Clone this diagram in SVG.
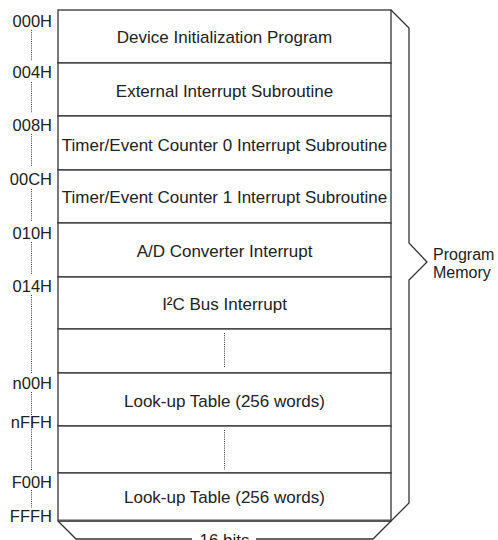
<svg xmlns="http://www.w3.org/2000/svg" width="498" height="540" viewBox="0 0 498 540">
<style>
.cell{fill:#fff;stroke:#333;stroke-width:1.3}
.t{font-family:"Liberation Sans",Arial,sans-serif;font-size:17px;fill:#222;text-anchor:middle}
.a{font-family:"Liberation Sans",Arial,sans-serif;font-size:16.5px;fill:#222;text-anchor:end}
.d{stroke:#333;stroke-width:1;stroke-dasharray:1 1.2;fill:none}
.br{fill:none;stroke:#333;stroke-width:1.3;stroke-linejoin:miter}
</style>
<rect width="498" height="540" fill="#fff"/>
<g id="addresses">
<text class="a" x="52" y="27">000H</text>
<text class="a" x="52" y="77.5">004H</text>
<text class="a" x="52" y="131">008H</text>
<text class="a" x="52" y="185">00CH</text>
<text class="a" x="52" y="238.5">010H</text>
<text class="a" x="52" y="291.5">014H</text>
<text class="a" x="52" y="388.5">n00H</text>
<text class="a" x="52" y="428">nFFH</text>
<text class="a" x="52" y="487.5">F00H</text>
<text class="a" x="52" y="521.5">FFFH</text>
</g>
<g id="connectors">
<line class="d" x1="31.5" y1="30" x2="31.5" y2="61"/>
<line class="d" x1="31.5" y1="82" x2="31.5" y2="113"/>
<line class="d" x1="31.5" y1="134" x2="31.5" y2="167"/>
<line class="d" x1="31.5" y1="189" x2="31.5" y2="222"/>
<line class="d" x1="31.5" y1="242" x2="31.5" y2="275"/>
<line class="d" x1="31.5" y1="295" x2="31.5" y2="374"/>
<line class="d" x1="31.5" y1="392" x2="31.5" y2="471"/>
<line class="d" x1="31.5" y1="490" x2="31.5" y2="508"/>
</g>
<g id="row-init"><rect class="cell" x="58" y="10" width="333" height="53"/><text class="t" x="224.5" y="42.5">Device Initialization Program</text></g>
<g id="row-ext"><rect class="cell" x="58" y="63" width="333" height="53"/><text class="t" x="224.5" y="96.5">External Interrupt Subroutine</text></g>
<g id="row-tmr0"><rect class="cell" x="58" y="116" width="333" height="54"/><text class="t" x="224.5" y="150.5">Timer/Event Counter 0 Interrupt Subroutine</text></g>
<g id="row-tmr1"><rect class="cell" x="58" y="170" width="333" height="53"/><text class="t" x="224.5" y="203.3">Timer/Event Counter 1 Interrupt Subroutine</text></g>
<g id="row-ad"><rect class="cell" x="58" y="223" width="333" height="54"/><text class="t" x="224.5" y="256.7">A/D Converter Interrupt</text></g>
<g id="row-i2c"><rect class="cell" x="58" y="277" width="333" height="52"/><text class="t" x="224.5" y="310">I²C Bus Interrupt</text></g>
<g id="row-gap1"><rect class="cell" x="58" y="329" width="333" height="44"/><line class="d" x1="224.5" y1="333" x2="224.5" y2="368"/></g>
<g id="row-lut1"><rect class="cell" x="58" y="373" width="333" height="53"/><text class="t" x="224.5" y="406.5">Look-up Table (256 words)</text></g>
<g id="row-gap2"><rect class="cell" x="58" y="426" width="333" height="47"/><line class="d" x1="224.5" y1="430" x2="224.5" y2="470"/></g>
<g id="row-lut2"><rect class="cell" x="58" y="473" width="333" height="48"/><text class="t" x="224.5" y="502.7">Look-up Table (256 words)</text></g>
<line x1="58" y1="520.8" x2="391" y2="520.8" stroke="#555" stroke-width="2.4"/>
<g id="program-memory">
<polyline class="br" points="391,10 409,28 409,243 427,262 409,280 409,503 391,521"/>
<text x="433" y="260" font-family="Liberation Sans, Arial, sans-serif" font-size="16" fill="#222">Program</text>
<text x="433" y="278" font-family="Liberation Sans, Arial, sans-serif" font-size="16" fill="#222">Memory</text>
</g>
<g id="width-16bits">
<polyline class="br" points="58,521 76,539 192,539"/>
<polyline class="br" points="256,539 373,539 391,521"/>
<text class="t" x="224.5" y="546">16 bits</text>
</g>
</svg>
